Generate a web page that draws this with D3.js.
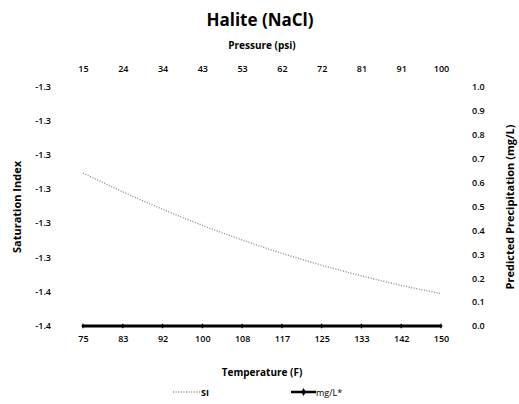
<!DOCTYPE html>
<html>
<head>
<meta charset="utf-8">
<script src="https://cdn.jsdelivr.net/npm/d3@7"></script>
<style>
  body { margin: 0; background: #fff; }
  svg { font-family: "Open Sans", "Noto Sans", sans-serif; }
</style>
</head>
<body>
<svg id="chart" width="519" height="404"></svg>
<script>
// data
var temperature = [75, 83, 92, 100, 108, 117, 125, 133, 142, 150];
var pressure = [15, 24, 34, 43, 53, 62, 72, 81, 91, 100];
var siValues = [-1.3152, -1.3207, -1.3258, -1.3305, -1.3348, -1.3387, -1.3422, -1.3453, -1.3481, -1.3505];
var mgValues = [0, 0, 0, 0, 0, 0, 0, 0, 0, 0];
var siTicks = [-1.29, -1.30, -1.31, -1.32, -1.33, -1.34, -1.35, -1.36];
var mgTicks = [0, 0.1, 0.2, 0.3, 0.4, 0.5, 0.6, 0.7, 0.8, 0.9, 1.0];

var svg = d3.select('#chart');
var plotLeft = 83, plotRight = 441, plotTop = 87, plotBottom = 326;

var x = d3.scalePoint().domain(d3.range(temperature.length)).range([plotLeft, plotRight]);
var ySI = d3.scaleLinear().domain([-1.36, -1.29]).range([plotBottom, plotTop]);
var yMg = d3.scaleLinear().domain([0, 1]).range([plotBottom, plotTop]);

function tickStyle(sel) {
  sel.style('font-size', '9px').style('font-weight', '600')
    .style('font-family', '"Open Sans", sans-serif').attr('fill', '#000');
}

// title
svg.append('text').attr('x', 260).attr('y', 26).attr('text-anchor', 'middle')
  .style('font-size', '17px').style('font-weight', 'bold').text('Halite (NaCl)');
svg.append('text').attr('x', 262).attr('y', 49).attr('text-anchor', 'middle')
  .style('font-size', '10px').style('font-weight', 'bold').text('Pressure (psi)');

// top axis (pressure)
var topAxis = d3.axisTop(x).tickSize(0).tickPadding(0).tickFormat(function (d) { return pressure[d]; });
var gTop = svg.append('g').attr('transform', 'translate(0,' + 72 + ')').call(topAxis);

// bottom axis (temperature)
var botAxis = d3.axisBottom(x).tickSize(0).tickPadding(0).tickFormat(function (d) { return temperature[d]; });
var gBot = svg.append('g').attr('transform', 'translate(0,' + 336 + ')').call(botAxis);

// right axis (mg/L)
var rightAxis = d3.axisRight(yMg).tickValues(mgTicks).tickSize(0).tickPadding(0)
  .tickFormat(d3.format('.1f'));
var gRight = svg.append('g').attr('transform', 'translate(' + 472 + ',0)').call(rightAxis);

[gTop, gBot, gRight].forEach(function (g) {
  g.select('.domain').remove();
  g.selectAll('text').call(tickStyle);
});

// left axis (SI), labels rounded to one decimal like the source
svg.append('g').selectAll('text').data(siTicks).enter().append('text')
  .attr('x', 51).attr('y', function (d) { return ySI(d); }).attr('dy', '0.32em')
  .attr('text-anchor', 'end')
  .text(function (d) { return d.toFixed(1); })
  .call(tickStyle);

// axis titles
svg.append('text').attr('transform', 'translate(21,207) rotate(-90)').attr('text-anchor', 'middle')
  .style('font-size', '11px').style('font-weight', 'bold').text('Saturation Index');
svg.append('text').attr('transform', 'translate(514,207) rotate(-90)').attr('text-anchor', 'middle')
  .style('font-size', '11px').style('font-weight', 'bold').text('Predicted Precipitation (mg/L)');
svg.append('text').attr('x', 262).attr('y', 376).attr('text-anchor', 'middle')
  .style('font-size', '10px').style('font-weight', 'bold').text('Temperature (F)');

// SI dotted line
var siLine = d3.line().curve(d3.curveMonotoneX)
  .x(function (d, i) { return x(i); }).y(function (d) { return ySI(d); });
svg.append('path').datum(siValues).attr('d', siLine)
  .attr('fill', 'none').attr('stroke', '#8e8e8e').attr('stroke-width', 1.4)
  .attr('stroke-dasharray', '1,1.6');

// mg/L line
var mgLine = d3.line().x(function (d, i) { return x(i); }).y(function (d) { return yMg(d); });
svg.append('path').datum(mgValues).attr('d', mgLine)
  .attr('fill', 'none').attr('stroke', '#000').attr('stroke-width', 3);
var diamond = d3.symbol().type(d3.symbolDiamond).size(8);
svg.selectAll('.mk').data(mgValues).enter().append('path').attr('class', 'mk')
  .attr('d', diamond)
  .attr('transform', function (d, i) { return 'translate(' + x(i) + ',' + yMg(d) + ')'; })
  .attr('fill', '#000');

// legend
var leg = svg.append('g').attr('transform', 'translate(0,392)');
leg.append('line').attr('x1', 173).attr('x2', 200).attr('y1', 0).attr('y2', 0)
  .attr('stroke', '#8e8e8e').attr('stroke-width', 1.4).attr('stroke-dasharray', '1,1.6');
leg.append('text').attr('x', 201).attr('y', 3.5).style('font-size', '9px').style('font-weight', 'bold').text('SI');
leg.append('line').attr('x1', 291).attr('x2', 316).attr('y1', 0).attr('y2', 0)
  .attr('stroke', '#000').attr('stroke-width', 2.5);
leg.append('path').attr('d', d3.symbol().type(d3.symbolDiamond).size(18))
  .attr('transform', 'translate(303.5,0)').attr('fill', '#000');
leg.append('text').attr('x', 316).attr('y', 3.5).style('font-size', '9px').text('mg/L*');
</script>
</body>
</html>
